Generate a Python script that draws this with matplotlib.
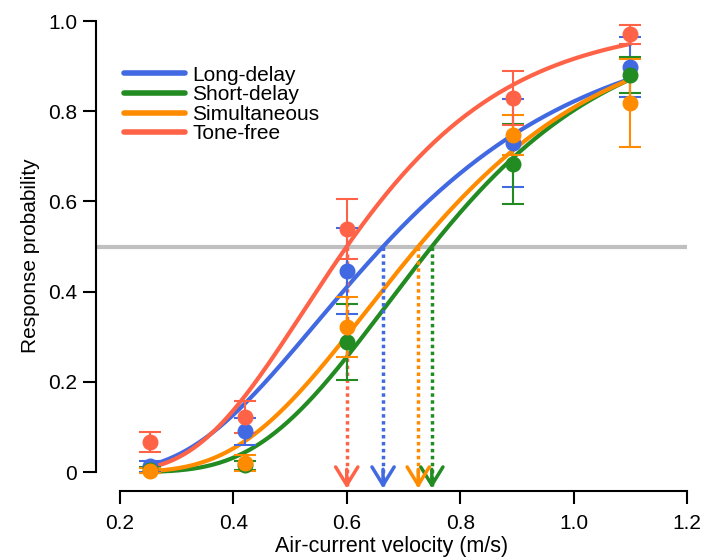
import math
import numpy as np
import matplotlib
matplotlib.use("Agg")
import matplotlib.pyplot as plt

plt.rcParams['font.family'] = ['Liberation Sans', 'DejaVu Sans']

# stimulus velocities (m/s)
velocity = [0.253, 0.42, 0.60, 0.893, 1.10]

conditions = ['Long-delay', 'Short-delay', 'Simultaneous', 'Tone-free']
colors = ['#4169E1', '#228B22', '#FF8C00', '#FF6347']

# observed response probabilities
p_long = [0.013, 0.091, 0.446, 0.730, 0.898]
p_short = [0.005, 0.015, 0.288, 0.683, 0.880]
p_simul = [0.003, 0.020, 0.322, 0.747, 0.818]
p_free = [0.067, 0.122, 0.539, 0.829, 0.971]

# standard errors
se_long = [0.012, 0.030, 0.095, 0.098, 0.067]
se_short = [0.006, 0.010, 0.084, 0.088, 0.040]
se_simul = [0.006, 0.018, 0.067, 0.045, 0.098]
se_free = [0.022, 0.035, 0.067, 0.060, 0.021]

# fitted psychometric functions (cumulative normal on log velocity)
threshold = [0.664, 0.750, 0.726, 0.600]
slope = [2.25, 2.95, 2.72, 2.70]

probs = [p_long, p_short, p_simul, p_free]
errs = [se_long, se_short, se_simul, se_free]


def psychometric(x, x50, k):
    z = k * np.log(np.asarray(x) / x50)
    return np.array([0.5 * (1 + math.erf(v / math.sqrt(2))) for v in z])


fig = plt.figure(figsize=(7.04, 5.59), dpi=100)
ax = fig.add_axes([0.1364, 0.1216, 0.8396, 0.8408])

ax.axhline(0.5, color='#C0C0C0', lw=3, zorder=1)

xs = np.linspace(velocity[0], velocity[-1], 300)
for name, c, x50, k in zip(conditions, colors, threshold, slope):
    ax.plot(xs, psychometric(xs, x50, k), color=c, lw=3, label=name,
            solid_capstyle='round', zorder=2)

for c, p, e in zip(colors, probs, errs):
    ax.errorbar(velocity, p, yerr=e, fmt='o', color=c, ms=10.5, elinewidth=1.5,
                capsize=8, capthick=1.5, zorder=3)

# threshold markers
for c, x50 in zip(colors, threshold):
    ax.plot([x50, x50], [0.5, -0.03], color=c, lw=2.5, ls=(0, (1, 1)), zorder=2)
    ax.annotate('', xy=(x50, -0.036), xytext=(x50, 0.006),
                arrowprops=dict(arrowstyle='->,head_length=1.3,head_width=0.8',
                                color=c, lw=2.5, shrinkA=0, shrinkB=0), zorder=2)

ax.set_xlim(0.158, 1.2)
ax.set_ylim(-0.042, 1.0)
ax.spines['top'].set_visible(False)
ax.spines['right'].set_visible(False)
ax.spines['bottom'].set_bounds(0.2, 1.2)
ax.spines['left'].set_bounds(0, 1)
for s in ['bottom', 'left']:
    ax.spines[s].set_linewidth(1.5)

ax.set_xticks([0.2, 0.4, 0.6, 0.8, 1.0, 1.2])
ax.set_xticklabels(['0.2', '0.4', '0.6', '0.8', '1.0', '1.2'])
ax.set_yticks([0, 0.2, 0.4, 0.6, 0.8, 1.0])
ax.set_yticklabels(['0', '0.2', '0.4', '0.6', '0.8', '1.0'])
ax.tick_params(length=9.5, width=1.5, labelsize=15)
ax.tick_params(axis='x', pad=7)
ax.tick_params(axis='y', pad=4)

ax.set_xlabel('Air-current velocity (m/s)', fontsize=15.5, labelpad=2.5)
ax.set_ylabel('Response probability', fontsize=15, labelpad=6)

leg = ax.legend(loc='upper left', bbox_to_anchor=(0.034, 0.923), frameon=False,
                fontsize=15, handlelength=2.9, handletextpad=0.35,
                labelspacing=0.03, borderaxespad=0)
for h in leg.get_lines():
    h.set_linewidth(4)

fig.savefig('out.png', dpi=100)
